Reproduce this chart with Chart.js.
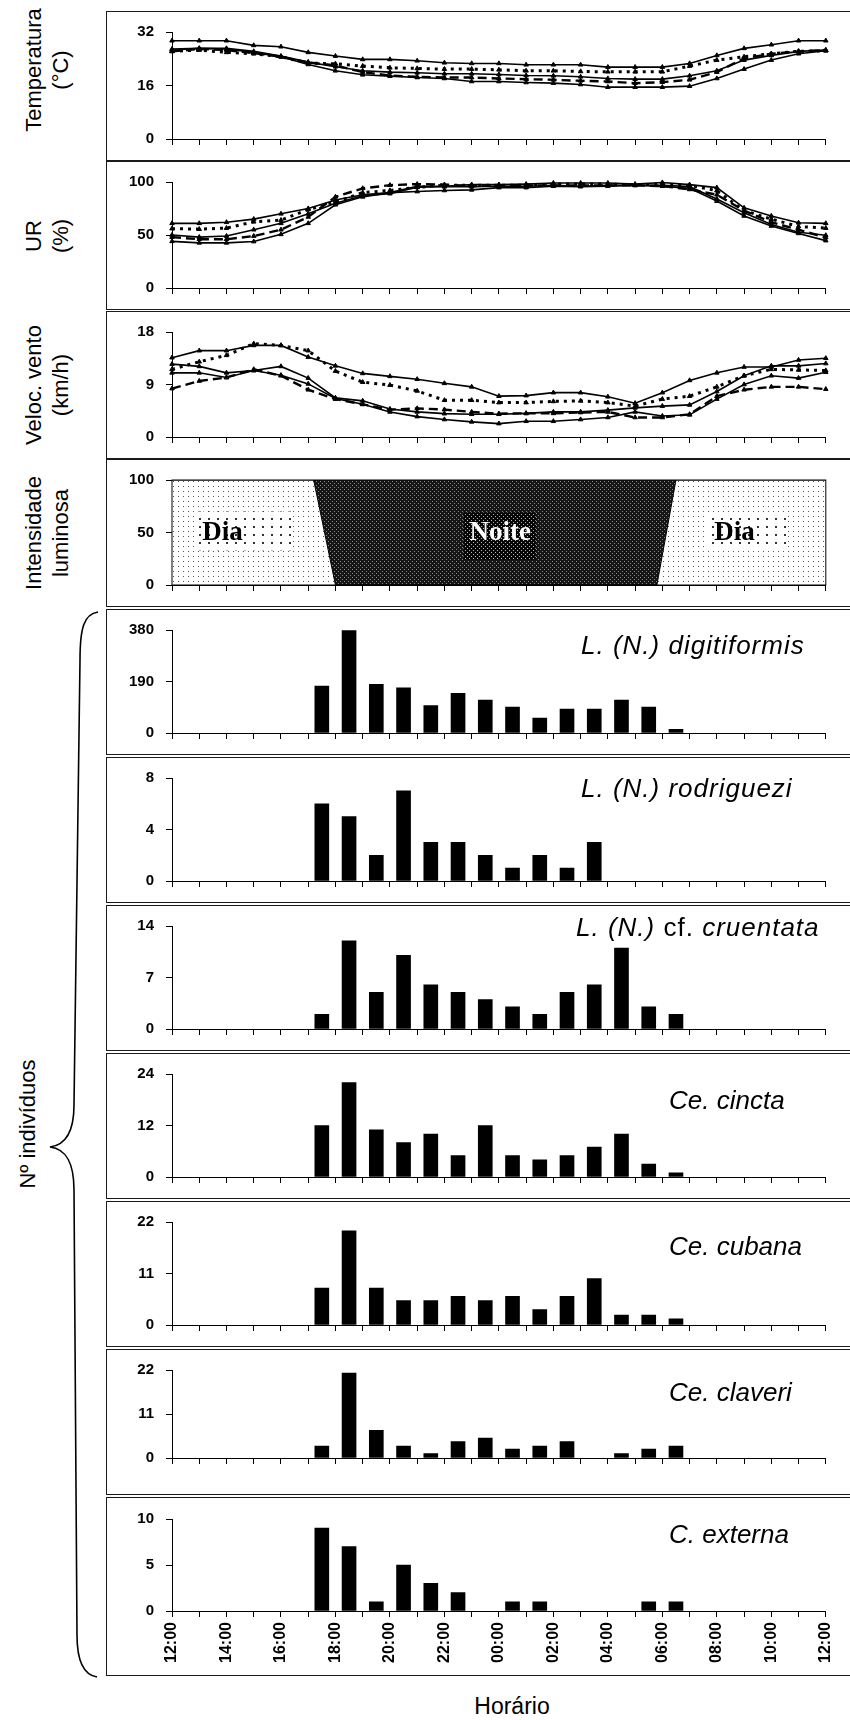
<!DOCTYPE html>
<html lang="pt">
<head>
<meta charset="utf-8">
<title>Atividade horária</title>
<script src="https://cdn.jsdelivr.net/npm/chart.js@4.4.1/dist/chart.umd.min.js"></script>
<style>
  body { margin: 0; background: #fff; font-family: "Liberation Sans", Arial, sans-serif; }
  #pagina { position: relative; width: 850px; height: 1720px; overflow: hidden; }
  .quadro { position: absolute; left: 106px; width: 760px; border: 1.5px solid #1a1a1a; box-sizing: border-box; }
  canvas { position: absolute; left: 106px; }
  .titulo { position: absolute; transform: translate(-50%, -50%) rotate(-90deg); white-space: nowrap;
            text-align: center; font-size: 22px; line-height: 27px; color: #000; }
  .especie { position: absolute; font-size: 26px; font-style: italic; transform: translateY(-50%); white-space: nowrap; }
  .especie.largo { letter-spacing: 1px; }
  .especie span { font-style: normal; }
  #horario { position: absolute; left: 512px; top: 1706px; transform: translate(-50%, -50%); font-size: 23px; }
  #chave { position: absolute; left: 0; top: 0; }
</style>
</head>
<body>
<div id="pagina">
  <div class="titulo" style="left:47px;top:70px">Temperatura<br>(°C)</div>
  <div class="titulo" style="left:47px;top:236px">UR<br>(%)</div>
  <div class="titulo" style="left:47px;top:385px">Veloc. vento<br>(km/h)</div>
  <div class="titulo" style="left:47px;top:533px">Intensidade<br>luminosa</div>
  <div class="titulo" style="left:27px;top:1124px">Nº indivíduos</div>
  <svg id="chave" width="120" height="1720">
    <path d="M98 612 C84 614 80 628 80 660 L74 1105 C74 1132 66 1145 50 1147 C66 1149 74 1162 74 1190 L77 1635 C77 1662 84 1675 97 1677"
          fill="none" stroke="#000" stroke-width="1.6"/>
  </svg>
  <div id="horario">Horário</div>
</div>

<script>
// horário (um valor por hora, 12:00 até 12:00 do dia seguinte)
const horas = ["12:00", "13:00", "14:00", "15:00", "16:00", "17:00", "18:00", "19:00", "20:00",
  "21:00", "22:00", "23:00", "00:00", "01:00", "02:00", "03:00", "04:00", "05:00", "06:00",
  "07:00", "08:00", "09:00", "10:00", "11:00", "12:00"];

// Temperatura (°C)
const temp1 = [29.4, 29.4, 29.4, 28.0, 27.6, 25.9, 24.8, 23.8, 23.8, 23.4, 22.8, 22.6, 22.6, 22.2, 22.2, 22.2, 21.5, 21.5, 21.5, 22.6, 25.0, 27.1, 28.2, 29.4, 29.4];
const temp2 = [26.2, 26.6, 25.9, 25.5, 24.6, 22.7, 22.5, 21.8, 21.3, 21.1, 20.9, 20.9, 20.7, 20.4, 20.4, 20.2, 20.1, 20.1, 20.1, 21.8, 23.6, 24.6, 25.5, 26.2, 26.4];
const temp3 = [26.9, 27.1, 27.1, 26.2, 24.8, 23.0, 21.6, 20.4, 20.0, 19.8, 19.5, 19.5, 19.3, 19.0, 18.9, 18.6, 18.1, 17.9, 17.9, 18.9, 20.4, 23.6, 25.0, 26.2, 26.6];
const temp4 = [26.2, 26.9, 26.6, 25.7, 24.6, 22.9, 22.0, 20.0, 19.0, 18.6, 18.4, 18.4, 18.1, 17.9, 17.7, 17.4, 17.2, 16.7, 17.0, 17.7, 20.0, 24.1, 25.5, 26.2, 26.6];
const temp5 = [26.6, 27.1, 26.9, 25.9, 24.6, 22.3, 20.4, 19.2, 18.8, 18.4, 18.1, 17.2, 17.2, 16.9, 16.7, 16.3, 15.5, 15.5, 15.5, 15.8, 18.1, 20.9, 23.6, 25.5, 26.4];

// Umidade relativa (%)
const ur1 = [61, 61, 62, 65, 70, 75, 83, 88, 90, 96, 96, 97.5, 97.5, 98, 99, 99, 99, 98, 99.5, 97.5, 94.7, 75.6, 68, 61.5, 61];
const ur2 = [56, 55.5, 56.5, 62.5, 64, 74, 81, 90, 92, 95, 97, 97, 97, 97, 98, 98, 98, 97.5, 98, 96.8, 91.8, 73, 65, 58, 56.5];
const ur3 = [50, 48, 49, 55, 61, 70, 80, 87, 89, 95, 95.5, 95.5, 96, 96, 97, 96, 97, 97, 97, 95.6, 84, 71, 60, 52.6, 49.7];
const ur4 = [48, 46, 46, 49, 55, 67, 86, 94, 97, 98, 97.6, 96, 96.8, 96.8, 96.8, 96.8, 96.8, 96.8, 96.2, 93, 88, 73, 62, 55, 47.6];
const ur5 = [44, 42.6, 42.6, 43.8, 50.6, 61, 78.5, 86, 90, 91, 92, 92.6, 94.7, 94.7, 96, 95.6, 96, 96.8, 96, 94, 82, 68, 58.5, 51.5, 44.7];

// Velocidade do vento (km/h)
const vento1 = [13.6, 14.8, 14.8, 15.7, 15.7, 13.7, 12.2, 10.9, 10.4, 9.9, 9.2, 8.6, 7.0, 7.1, 7.6, 7.6, 6.9, 5.8, 7.6, 9.7, 11.0, 12.0, 12.0, 13.2, 13.5];
const vento2 = [11.6, 12.9, 14.0, 16.0, 15.7, 14.8, 11.3, 9.4, 8.9, 7.9, 6.3, 6.3, 5.9, 5.9, 6.1, 6.2, 5.9, 5.3, 6.5, 7.0, 8.6, 10.5, 11.6, 11.5, 11.4];
const vento3 = [12.5, 12.1, 11.0, 11.4, 12.1, 10.1, 6.7, 6.2, 4.8, 4.3, 4.0, 3.9, 3.9, 4.05, 4.3, 4.3, 4.6, 5.0, 5.3, 5.5, 7.8, 10.5, 12.2, 12.2, 12.6];
const vento4 = [8.3, 9.6, 10.2, 11.6, 10.5, 8.1, 6.5, 5.6, 4.7, 4.9, 4.7, 4.3, 4.0, 4.05, 4.05, 4.2, 4.3, 3.35, 3.35, 3.9, 7.0, 8.1, 8.6, 8.6, 8.2];
const vento5 = [11.0, 11.0, 10.2, 11.4, 10.6, 9.1, 6.6, 5.6, 4.3, 3.5, 3.0, 2.6, 2.3, 2.7, 2.7, 3.0, 3.35, 4.3, 3.6, 3.8, 6.5, 9.0, 10.5, 10.1, 11.1];

// Intensidade luminosa: limite dia/noite (hora desde 12:00, %)
const luzHora = [0, 5.2, 6.0, 17.8, 18.5, 24];
const luzValor = [100, 100, 0, 0, 100, 100];

// Nº de indivíduos por intervalo de uma hora (12:00-13:00 ... 11:00-12:00)
const digitiformis = [null, null, null, null, null, 173, 378, 180, 167, 101, 146, 121, 96, 55, 88, 88, 121, 96, 14, null, null, null, null, null];
const rodriguezi = [null, null, null, null, null, 6, 5, 2, 7, 3, 3, 2, 1, 2, 1, 3, null, null, null, null, null, null, null, null];
const cruentata = [null, null, null, null, null, 2, 12, 5, 10, 6, 5, 4, 3, 2, 5, 6, 11, 3, 2, null, null, null, null, null];
const cincta = [null, null, null, null, null, 12, 22, 11, 8, 10, 5, 12, 5, 4, 5, 7, 10, 3, 1, null, null, null, null, null];
const cubana = [null, null, null, null, null, 7.9, 20.1, 7.9, 5.2, 5.2, 6.1, 5.2, 6.1, 3.3, 6.1, 9.9, 2.1, 2.1, 1.3, null, null, null, null, null];
const claveri = [null, null, null, null, null, 3, 21.2, 6.9, 3, 1.1, 4.1, 5, 2.2, 3, 4.1, null, 1.1, 2.2, 3, null, null, null, null, null];
const externa = [null, null, null, null, null, 9, 7, 1, 5, 3, 2, null, 1, 1, null, null, null, 1, 1, null, null, null, null, null];

const FONTE = '"Liberation Sans", Arial, sans-serif';
const pagina = document.getElementById('pagina');

// posição de cada quadro na página (px)
const paineis = {
  temp:    { topo: 11,   base: 160,  eixoTopo: 29.6,   eixoBase: 143.7 },
  ur:      { topo: 161,  base: 309,  eixoTopo: 178,    eixoBase: 292.8 },
  vento:   { topo: 311,  base: 458,  eixoTopo: 329,    eixoBase: 438.7 },
  luz:     { topo: 459,  base: 606,  eixoTopo: 477,    eixoBase: 589 },
  digit:   { topo: 609,  base: 754,  eixoTopo: 623.5,  eixoBase: 737.5 },
  rodr:    { topo: 757,  base: 902,  eixoTopo: 774,    eixoBase: 886 },
  cruent:  { topo: 905,  base: 1050, eixoTopo: 924.6,  eixoBase: 1036.5 },
  cincta:  { topo: 1053, base: 1198, eixoTopo: 1069,   eixoBase: 1183 },
  cubana:  { topo: 1201, base: 1346, eixoTopo: 1218.5, eixoBase: 1330.5 },
  claveri: { topo: 1349, base: 1494, eixoTopo: 1368,   eixoBase: 1458 },
  externa: { topo: 1497, base: 1675, eixoTopo: 1519,   eixoBase: 1611 }
};

const estilos = [
  { borderDash: [], borderWidth: 1.6 },
  { borderDash: [3, 5], borderWidth: 3 },
  { borderDash: [], borderWidth: 1.6 },
  { borderDash: [9, 5], borderWidth: 2.4 },
  { borderDash: [], borderWidth: 1.6 }
];

function eixoX(alturaX, comRotulos) {
  return {
    type: 'linear', min: 0, max: 24, offset: false,
    grid: { drawOnChartArea: false, drawTicks: true, tickLength: 6, color: '#000', offset: false },
    border: { color: '#000', width: 1 },
    ticks: {
      stepSize: 1, maxTicksLimit: 30, autoSkip: false, maxRotation: 90, minRotation: 90, padding: 5,
      color: '#000', font: { family: FONTE, size: 16, weight: 'bold' },
      callback: v => (comRotulos && v % 2 === 0) ? horas[v] : ''
    },
    afterFit: s => { s.height = alturaX; }
  };
}

function eixoY(maximo, passo) {
  return {
    type: 'linear', min: 0, max: maximo,
    grid: { drawOnChartArea: false, tickLength: 6, color: '#000' },
    border: { color: '#000', width: 1 },
    ticks: { stepSize: passo, padding: 12, color: '#000', font: { family: FONTE, size: 15, weight: 'bold' } },
    afterFit: s => { s.width = 66; }
  };
}

function opcoesBase(p, maximo, passo, comRotulos) {
  return {
    responsive: false, animation: false, events: [],
    layout: { padding: { top: p.eixoTopo - p.topo, right: 18, left: 0, bottom: 0 } },
    plugins: { legend: { display: false }, tooltip: { enabled: false } },
    scales: { x: eixoX(p.base - p.eixoBase, comRotulos), y: eixoY(maximo, passo) }
  };
}

function criarPainel(p, config) {
  const q = document.createElement('div');
  q.className = 'quadro';
  q.style.top = p.topo + 'px';
  q.style.height = (p.base - p.topo + 1) + 'px';
  pagina.appendChild(q);
  const c = document.createElement('canvas');
  c.width = 744;
  c.height = p.base - p.topo;
  c.style.top = p.topo + 'px';
  pagina.appendChild(c);
  return new Chart(c.getContext('2d'), config);
}

function painelLinhas(p, series, maximo, passo) {
  return criarPainel(p, {
    type: 'line',
    data: {
      datasets: series.map((s, k) => ({
        data: s.map((v, i) => ({ x: i, y: v })),
        borderColor: '#000', backgroundColor: '#000',
        borderWidth: estilos[k].borderWidth, borderDash: estilos[k].borderDash,
        pointStyle: 'triangle', pointRadius: 2.6, pointBorderWidth: 1,
        fill: false, tension: 0, clip: false
      }))
    },
    options: opcoesBase(p, maximo, passo, false)
  });
}

function painelBarras(p, valores, maximo, passo, comRotulos) {
  return criarPainel(p, {
    type: 'bar',
    data: {
      datasets: [{
        data: valores.map((v, i) => ({ x: i + 0.5, y: v })),
        backgroundColor: '#000', borderWidth: 0, barThickness: 14
      }]
    },
    options: opcoesBase(p, maximo, passo, comRotulos)
  });
}

function criarPadrao(larg, alt, fundo, cor, pontos, tam) {
  const c = document.createElement('canvas');
  c.width = larg; c.height = alt;
  const g = c.getContext('2d');
  g.fillStyle = fundo; g.fillRect(0, 0, larg, alt);
  g.fillStyle = cor;
  pontos.forEach(([x, y]) => g.fillRect(x, y, tam, tam));
  return g.createPattern(c, 'repeat');
}
const padraoDia = criarPadrao(5, 5, '#fff', '#555', [[2, 2]], 1);
const padraoNoite = criarPadrao(4, 4, '#161616', '#8a8a8a', [[0, 0], [2, 2]], 1);
const padraoCaixaDia = criarPadrao(9, 8, '#fff', '#333', [[3, 3]], 2);
const padraoCaixaNoite = criarPadrao(4, 4, '#050505', '#b5b5b5', [[1, 1], [3, 3]], 1);

// caixas de texto "Dia" / "Noite" (em horas e %)
const rotulosLuz = [
  { texto: 'Dia', x0: 0.9, x1: 4.4, y0: 33, y1: 70, cx: 1.85, escuro: false },
  { texto: 'Noite', x0: 10.7, x1: 13.35, y0: 24, y1: 69, cx: 12.05, escuro: true },
  { texto: 'Dia', x0: 19.6, x1: 22.6, y0: 35, y1: 68, cx: 20.65, escuro: false }
];

const rotulosDiaNoite = {
  id: 'rotulosDiaNoite',
  afterDatasetsDraw(chart) {
    const { ctx, chartArea: a, scales: { x, y } } = chart;
    ctx.save();
    rotulosLuz.forEach(r => {
      const l = x.getPixelForValue(r.x0), rr = x.getPixelForValue(r.x1);
      const t = y.getPixelForValue(r.y1), b = y.getPixelForValue(r.y0);
      ctx.fillStyle = r.escuro ? padraoCaixaNoite : padraoCaixaDia;
      ctx.fillRect(l, t, rr - l, b - t);
      ctx.font = 'bold 27px "Liberation Serif", "Times New Roman", serif';
      ctx.textAlign = 'center';
      ctx.textBaseline = 'middle';
      ctx.fillStyle = r.escuro ? '#fff' : '#000';
      ctx.fillText(r.texto, x.getPixelForValue(r.cx), y.getPixelForValue(50) + 1);
    });
    ctx.strokeStyle = '#000';
    ctx.lineWidth = 1;
    ctx.strokeRect(a.left, a.top, a.right - a.left, a.bottom - a.top);
    ctx.restore();
  }
};

painelLinhas(paineis.temp, [temp1, temp2, temp3, temp4, temp5], 32, 16);
painelLinhas(paineis.ur, [ur1, ur2, ur3, ur4, ur5], 100, 50);
painelLinhas(paineis.vento, [vento1, vento2, vento3, vento4, vento5], 18, 9);

const luzPontos = luzHora.map((h, i) => ({ x: h, y: luzValor[i] }));
criarPainel(paineis.luz, {
  type: 'line',
  data: {
    datasets: [
      { data: luzPontos, fill: 'end', backgroundColor: padraoNoite, borderColor: '#000', borderWidth: 1, pointRadius: 0, tension: 0 },
      { data: luzPontos, fill: 'start', backgroundColor: padraoDia, borderColor: '#000', borderWidth: 0, pointRadius: 0, tension: 0 }
    ]
  },
  options: opcoesBase(paineis.luz, 100, 50, false),
  plugins: [rotulosDiaNoite]
});

painelBarras(paineis.digit, digitiformis, 380, 190, false);
painelBarras(paineis.rodr, rodriguezi, 8, 4, false);
painelBarras(paineis.cruent, cruentata, 14, 7, false);
painelBarras(paineis.cincta, cincta, 24, 12, false);
painelBarras(paineis.cubana, cubana, 22, 11, false);
painelBarras(paineis.claveri, claveri, 22, 11, false);
painelBarras(paineis.externa, externa, 10, 5, true);

// nomes das espécies
const especies = [
  ['L. (N.) digitiformis', 581, 645, true],
  ['L. (N.) rodriguezi', 581, 788, true],
  ['L. (N.) <span>cf.</span> cruentata', 576, 927, true],
  ['Ce. cincta', 669, 1100, false],
  ['Ce. cubana', 669, 1246, false],
  ['Ce. claveri', 669, 1392, false],
  ['C. externa', 669, 1534, false]
];
especies.forEach(([nome, x, y, largo]) => {
  const d = document.createElement('div');
  d.className = largo ? 'especie largo' : 'especie';
  d.style.left = x + 'px';
  d.style.top = y + 'px';
  d.innerHTML = nome;
  pagina.appendChild(d);
});
</script>
</body>
</html>
